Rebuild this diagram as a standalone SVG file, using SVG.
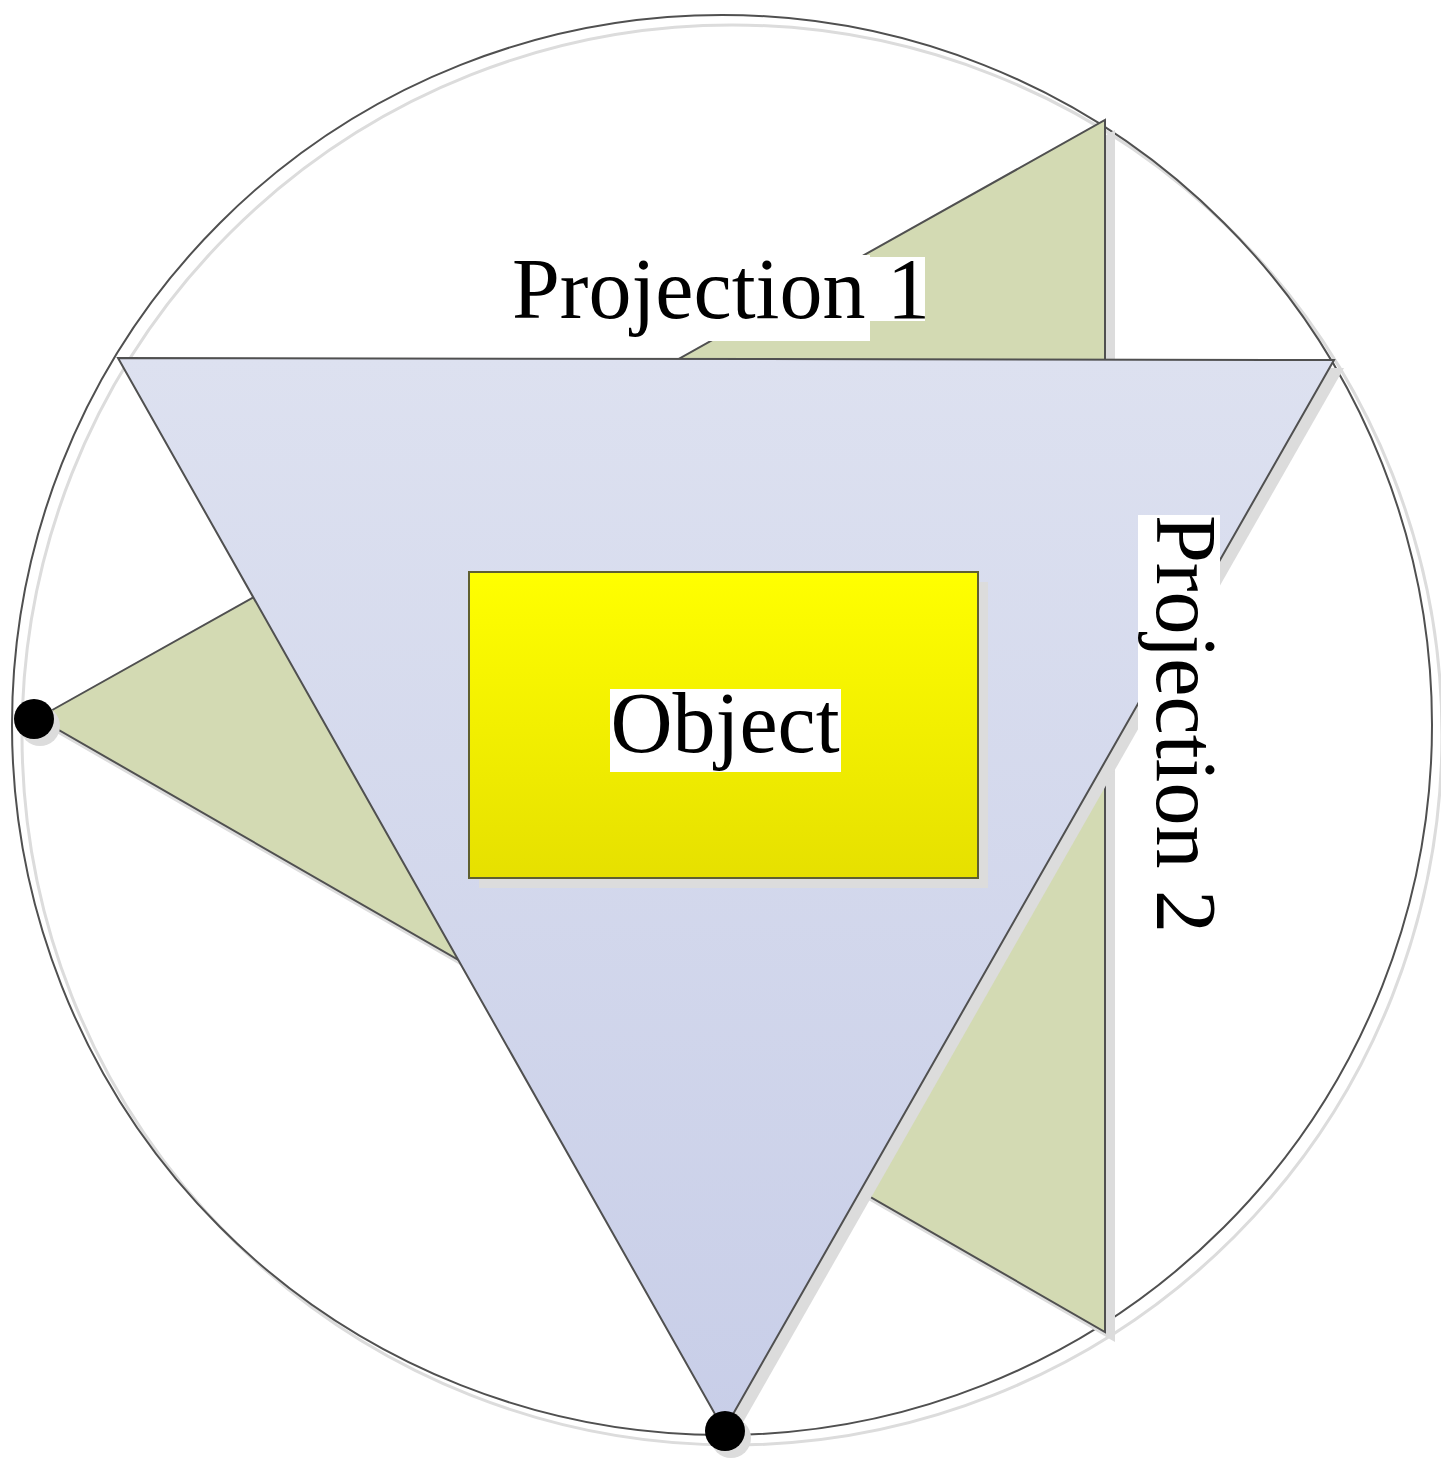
<svg xmlns="http://www.w3.org/2000/svg" width="1441" height="1458" viewBox="0 0 1441 1458">
<defs>
<linearGradient id="gBlue" x1="0" y1="0" x2="0" y2="1">
<stop offset="0" stop-color="#dde1f0"/>
<stop offset="1" stop-color="#c8cee8"/>
</linearGradient>
<linearGradient id="gYel" x1="0" y1="0" x2="0" y2="1">
<stop offset="0" stop-color="#ffff00"/>
<stop offset="1" stop-color="#e6e000"/>
</linearGradient>
</defs>
<style>
.sh{fill:none;stroke:#dcdcdc;stroke-width:3}
.shf{fill:#dcdcdc;stroke:none}
.ln{stroke:#505050;stroke-width:2}
.lbl{font-family:"Liberation Serif","Times New Roman",serif;font-size:86px;fill:#000}
.dot{fill:#000}
</style>
<rect width="1441" height="1458" fill="#fff"/>
<g id="circle">
<circle cx="732" cy="735" r="710" class="sh"/>
<circle cx="722" cy="725" r="710" fill="none" class="ln"/>
</g>
<g id="projection2-cone">
<polygon points="48,728 1115,130 1115,1342" class="shf"/>
<polygon points="38,718 1105,120 1105,1332" fill="#d3dab3" class="ln"/>
</g>
<g id="projection1-cone">
<polygon points="128,366 1344,368 734,1438" class="shf"/>
<polygon points="118,358 1334,360 724,1430" fill="url(#gBlue)" class="ln"/>
</g>
<g id="object">
<rect x="479" y="582" width="509" height="306" class="shf"/>
<rect x="469" y="572" width="509" height="306" fill="url(#gYel)" stroke="#5f5f30" stroke-width="2"/>
<rect x="610" y="689" width="231" height="83" fill="#fff"/>
<text x="725" y="752" text-anchor="middle" class="lbl">Object</text>
</g>
<g id="label-projection1">
<rect x="508" y="255" width="362" height="86" fill="#fff"/>
<rect x="870" y="257" width="55" height="64" fill="#fff"/>
<text x="512" y="318" class="lbl">Projection 1</text>
</g>
<g id="label-projection2">
<rect x="1138" y="515" width="82" height="416" fill="#fff"/>
<text transform="translate(1157,515) rotate(90)" x="0" y="0" class="lbl">Projection 2</text>
</g>
<g id="points">
<circle cx="40" cy="726" r="20" class="shf"/>
<circle cx="34" cy="719" r="20" class="dot"/>
<circle cx="731" cy="1438" r="20" class="shf"/>
<circle cx="725" cy="1431" r="20" class="dot"/>
</g>
<g id="connectors"></g>
</svg>
